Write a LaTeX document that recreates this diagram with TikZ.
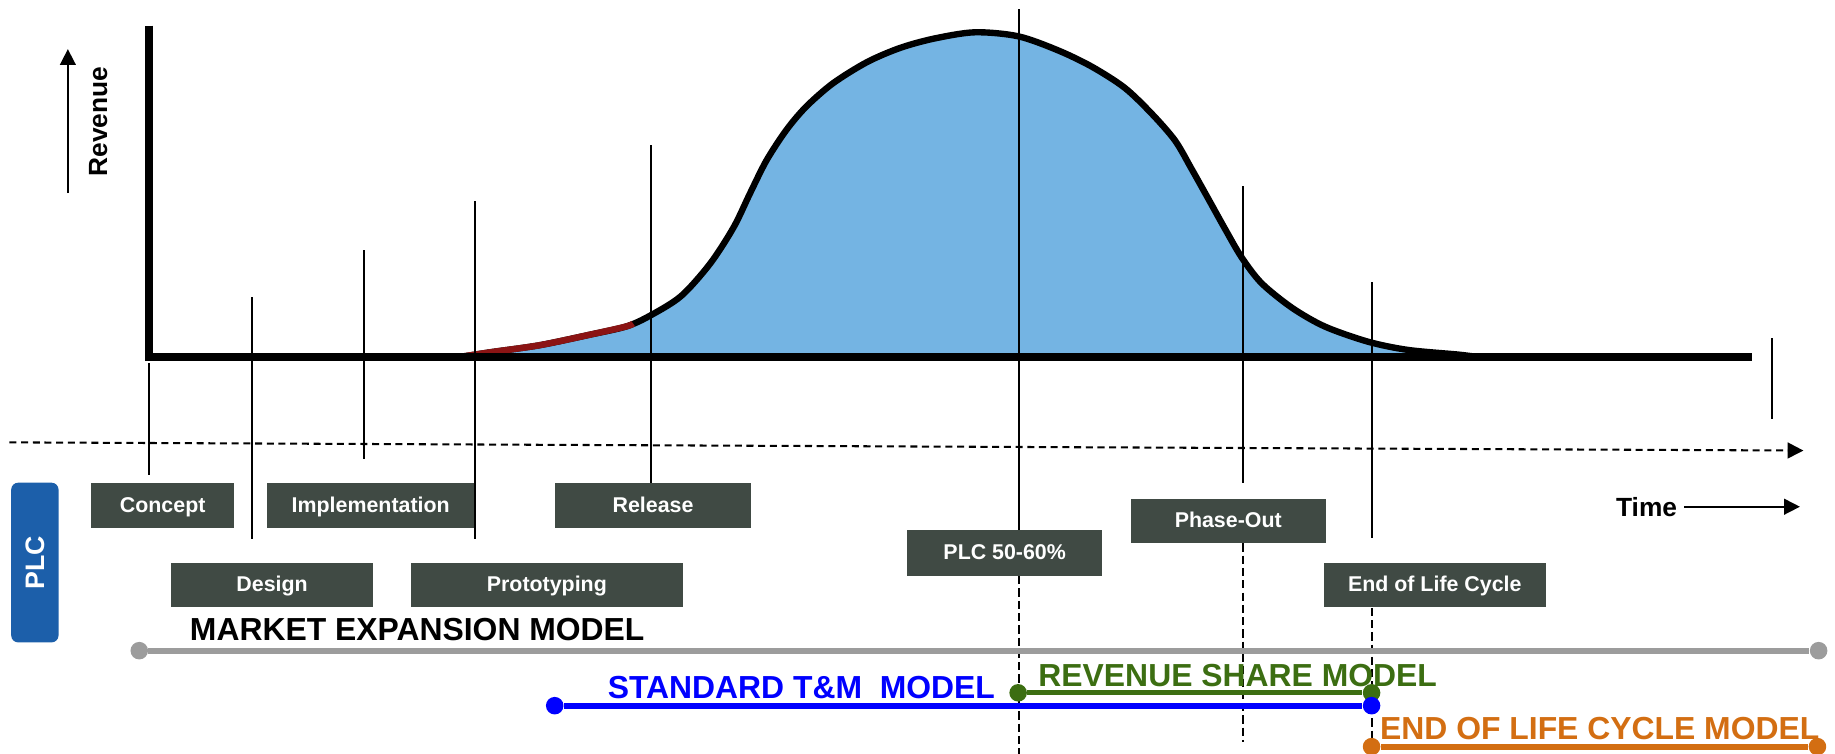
\documentclass[tikz,border=0pt]{standalone}
\usepackage{fontspec}
\setmainfont{Liberation Sans}
\usepackage{xcolor}
\usetikzlibrary{arrows.meta}
\definecolor{plcblue}{HTML}{1C5FAA}
\definecolor{boxgrey}{HTML}{404A44}
\definecolor{curveblue}{HTML}{74B4E3}
\definecolor{curvered}{HTML}{8B1414}
\definecolor{stdblue}{HTML}{0000FF}
\definecolor{revgreen}{HTML}{3C6E12}
\definecolor{eolorange}{HTML}{D36E12}
\definecolor{mktgrey}{HTML}{9C9C9C}

\begin{document}
\begin{tikzpicture}[x=0.02cm, y=-0.02cm,
    phasebox/.style={fill=boxgrey, text=white, font=\fontsize{10.4}{12}\selectfont\bfseries,
        minimum height=0.76cm, inner sep=0pt, text height=1.5ex, text depth=.25ex},
    phaseline/.style={line width=0.9pt},
    dashline/.style={line width=0.9pt, dash pattern=on 0.14cm off 0.07cm},
    headarrow/.style={-{Triangle[length=0.27cm, width=0.27cm]}},
    modellabel/.style={font=\fontsize{15.5}{18}\selectfont\bfseries, inner sep=0pt, anchor=base west},
    enddot/.style={circle, fill=#1, inner sep=0pt, minimum size=0.3cm},
    axislabel/.style={font=\fontsize{12.8}{15}\selectfont\bfseries}]
    \useasboundingbox (0,0) rectangle (1568,644);

    % revenue curve
    \fill[curveblue] plot[smooth] coordinates {(393,305) (419,301) (461,295) (504,286) (535,279) (555,270)
        (582,253) (607,225) (627,194) (641,165) (655,137) (672,111) (689,91) (712,71) (741,53) (769,41)
        (798,33) (833,27.6) (870,31) (904,43) (933,57) (961,75) (984,97) (1004,120) (1018,144) (1032,169)
        (1047,196) (1061,220) (1078,242) (1104,263) (1132,279) (1169,292) (1203,299) (1246,303) (1262,305)} -- cycle;
    \draw[line width=3.1pt] plot[smooth] coordinates {(393,305) (419,301) (461,295) (504,286) (535,279) (555,270)
        (582,253) (607,225) (627,194) (641,165) (655,137) (672,111) (689,91) (712,71) (741,53) (769,41)
        (798,33) (833,27.6) (870,31) (904,43) (933,57) (961,75) (984,97) (1004,120) (1018,144) (1032,169)
        (1047,196) (1061,220) (1078,242) (1104,263) (1132,279) (1169,292) (1203,299) (1246,303) (1262,305)};
    \draw[curvered, line width=3.1pt] plot[smooth] coordinates {(393,305) (419,301) (461,295) (504,286) (535,279) (541,276.5)};

    % axes
    \draw[line width=4pt] (127,22) coordinate(ytop) -- (127,305) coordinate(origin) -- (1497,305) coordinate(xend);
    \draw[headarrow, line width=0.8pt] (58,165) coordinate(revlow) -- (58,42) coordinate(revtop);
    \node[axislabel, rotate=90] (revenue) at (84,104) {Revenue};
    \draw[headarrow, line width=1pt, dash pattern=on 0.12cm off 0.08cm] (8,378) coordinate(tstart) -- (1541,385) coordinate(tend);
    \node[axislabel] (time) at (1407,433) {Time};
    \draw[headarrow, line width=0.8pt] (time.east) -- (1538,433) coordinate(timeend);

    % phases
    \node[phasebox, minimum width=2.44cm] (concept) at (139,432) {Concept};
    \node[phasebox, minimum width=3.55cm] (impl) at (316.75,432) {Implementation};
    \node[phasebox, minimum width=3.36cm] (release) at (558,432) {Release};
    \node[phasebox, minimum width=3.46cm] (design) at (232.5,500) {Design};
    \node[phasebox, minimum width=4.65cm] (proto) at (467.3,500) {Prototyping};
    \node[phasebox, minimum width=3.34cm, minimum height=0.78cm] (plchalf) at (858.5,472.5) {PLC 50-60\%};
    \node[phasebox, minimum width=3.34cm] (phaseout) at (1049.5,445) {Phase-Out};
    \node[phasebox, minimum width=3.8cm] (eol) at (1226,500) {End of Life Cycle};
    \node[rotate=90, fill=plcblue, rounded corners=0.12cm, minimum width=2.73cm, minimum height=0.81cm,
        inner sep=0pt, text=white, font=\fontsize{13}{15}\selectfont\bfseries] (plc) at (29.8,480.7) {PLC};

    % phase markers
    \draw[phaseline] (127,310) coordinate(concepttop) -- (127,406) coordinate(conceptbot);
    \draw[phaseline] (215,254) coordinate(designtop) -- (215,461) coordinate(designbot);
    \draw[phaseline] (311,214) coordinate(impltop) -- (311,392) coordinate(implbot);
    \draw[phaseline] (406,172) coordinate(prototop) -- (406,461) coordinate(protobot);
    \draw[phaseline] (556,124) coordinate(releasetop) -- (releasetop |- release.north);
    \draw[phaseline] (871,8) coordinate(peaktop) -- (peaktop |- plchalf.north);
    \draw[phaseline] (1062,159) coordinate(phasetop) -- (1062,413) coordinate(phasemid);
    \draw[phaseline] (1172,241) coordinate(eoltop) -- (1172,460) coordinate(eolmid);
    \draw[phaseline] (1514,289) coordinate(endtop) -- (1514,358) coordinate(endbot);
    \draw[dashline] (peaktop |- plchalf.south) -- (871,644) coordinate(peakbot);
    \draw[dashline] (phasetop |- phaseout.south) -- (1062,634) coordinate(phasebot);
    \draw[dashline] (eoltop |- eol.south) -- (1172,644) coordinate(eolbot);

    % business models
    \node[enddot=mktgrey] (mktstart) at (119,556) {};
    \node[enddot=mktgrey] (mktend) at (1554,556) {};
    \draw[mktgrey, line width=2.8pt] (mktstart) -- (mktend);
    \node[enddot=revgreen] (revstart) at (870,592) {};
    \node[enddot=revgreen] (revend) at (1172,592) {};
    \draw[revgreen, line width=2.4pt] (revstart) -- (revend);
    \node[enddot=stdblue] (stdstart) at (474,603) {};
    \node[enddot=stdblue] (stdend) at (1172,603) {};
    \draw[stdblue, line width=2.8pt] (stdstart) -- (stdend);
    \node[enddot=eolorange] (eolstart) at (1172,638) {};
    \node[enddot=eolorange] (eolend) at (1553,638) {};
    \draw[eolorange, line width=2.8pt] (eolstart) -- (eolend);

    \node[modellabel] (mktlabel) at (162,547) {MARKET EXPANSION MODEL};
    \node[modellabel, text=stdblue] (stdlabel) at (519,597) {STANDARD T\&M~~MODEL};
    \node[modellabel, text=revgreen] (revlabel) at (887,587) {REVENUE SHARE MODEL};
    \node[modellabel, text=eolorange] (eollabel) at (1179,632) {END OF LIFE CYCLE MODEL};
\end{tikzpicture}
\end{document}
